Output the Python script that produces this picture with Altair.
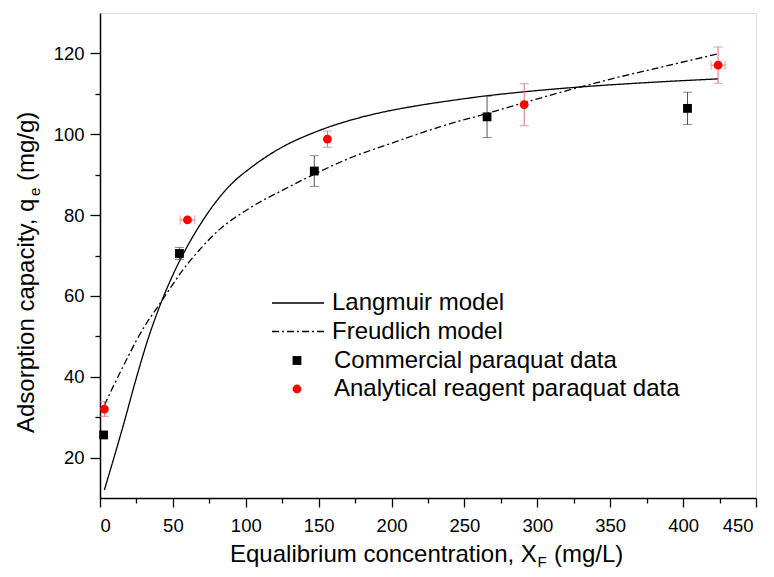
import altair as alt
import pandas as pd

FONT = "Liberation Sans"

# ---- model curves ----
lang_x = [3, 10, 16, 25, 33, 41, 50, 58, 69, 80, 91, 103, 121, 151, 174, 197, 220, 242, 265, 288, 341, 386, 424]
lang_y = [12.0, 20.5, 28.0, 39.8, 49.4, 57.5, 65.2, 71.0, 77.8, 83.5, 88.0, 91.6, 96.0, 101.0, 103.7, 105.7, 107.2, 108.4, 109.5, 110.4, 112.0, 113.0, 113.7]
freu_x = [3, 8, 13, 19, 25, 32, 39, 47, 57, 68, 80, 103, 126, 151, 174, 197, 220, 242, 265, 288, 341, 386, 424]
freu_y = [33.0, 36.8, 40.5, 44.8, 49.0, 53.3, 57.0, 61.3, 66.5, 71.3, 75.8, 81.8, 86.3, 90.8, 94.5, 97.4, 100.3, 102.8, 105.1, 107.5, 112.8, 116.7, 119.9]
model_names = ["Langmuir model", "Freudlich model"]

# ---- experimental data ----
series_names = ["Commercial paraquat data", "Analytical reagent paraquat data"]
comm_x = [2.5, 54.5, 147, 265.5, 403]
comm_y = [25.6, 70.5, 90.9, 104.3, 106.4]
comm_yerr = [0, 1.5, 3.8, 5.1, 4.0]
red_x = [3, 60, 156, 291, 424]
red_y = [32.0, 78.8, 98.8, 107.3, 117.1]
red_yerr = [1.8, 0, 2.0, 5.2, 4.5]
red_xerr = [0, 5.0, 0, 0, 4.8]

# ---- axis ticks and titles ----
x_major = [0, 50, 100, 150, 200, 250, 300, 350, 400, 450]
x_minor = [25, 75, 125, 175, 225, 275, 325, 375, 425]
y_major = [20, 40, 60, 80, 100, 120]
y_minor = [30, 50, 70, 90, 110]
x_title_parts = ["Equalibrium concentration, X", "F", "(mg/L)"]
y_title_parts = ["Adsorption capacity, q", "e", "(mg/g)"]

W, H = 656, 485

curves = pd.DataFrame({
    "x": lang_x + freu_x,
    "y": lang_y + freu_y,
    "model": [model_names[0]] * len(lang_x) + [model_names[1]] * len(freu_x),
})
points = pd.DataFrame({
    "x": comm_x + red_x,
    "y": comm_y + red_y,
    "series": [series_names[0]] * len(comm_x) + [series_names[1]] * len(red_x),
})

def verr(xs, ys, es):
    d = pd.DataFrame({"x": xs, "y": ys, "e": es})
    d = d[d.e > 0].copy()
    d["lo"] = d.y - d.e
    d["hi"] = d.y + d.e
    return d

def herr(xs, ys, es):
    d = pd.DataFrame({"x": xs, "y": ys, "e": es})
    d = d[d.e > 0].copy()
    d["lo"] = d.x - d.e
    d["hi"] = d.x + d.e
    return d

xs = alt.Scale(domain=[0, 450], nice=False, zero=False)
ys = alt.Scale(domain=[10, 130], nice=False, zero=False)

axis_common = dict(domainColor="black", domainWidth=1.5, tickColor="black", tickWidth=1.3,
                   grid=False, labelFont=FONT, labelColor="black", labelFontSize=18.5, title=None)

x_major_axis = alt.Axis(values=x_major, orient="bottom", tickSize=9, labelPadding=9,
                        labelOffset={"condition": {"test": "datum.value === 450", "value": -3}, "value": 0},
                        **axis_common)
y_major_axis = alt.Axis(values=y_major, orient="left", tickSize=10, labelPadding=6, **axis_common)
x_minor_axis = alt.Axis(values=x_minor, orient="bottom", tickSize=5, labels=False, domain=False,
                        tickColor="black", tickWidth=1.3, grid=False, title=None)
y_minor_axis = alt.Axis(values=y_minor, orient="left", tickSize=5, labels=False, domain=False,
                        tickColor="black", tickWidth=1.3, grid=False, title=None)

lines_legend = alt.Legend(orient="none", legendX=186, legendY=278, title=None, symbolType="M-3,0H3",
                          symbolSize=300, symbolStrokeWidth=1.3, symbolStrokeColor="black",
                          symbolFillColor="transparent",
                          labelFont=FONT, labelFontSize=24, labelColor="black", labelOffset=22,
                          labelLimit=600, rowPadding=4.5, padding=0)
pts_legend = alt.Legend(orient="none", legendX=185, legendY=335.5, title=None, symbolSize=78,
                        symbolStrokeWidth=0, labelFont=FONT, labelFontSize=24, labelColor="black",
                        labelOffset=25, labelLimit=600, rowPadding=4.5, padding=0)

curve_layer = alt.Chart(curves).mark_line(color="black", strokeWidth=1.3, interpolate="monotone").encode(
    x=alt.X("x:Q", scale=xs, axis=x_major_axis),
    y=alt.Y("y:Q", scale=ys, axis=y_major_axis),
    strokeDash=alt.StrokeDash("model:N", scale=alt.Scale(domain=model_names, range=[[1, 0], [7, 3, 2, 3]]),
                              legend=lines_legend, sort=model_names),
)

def vbars(d, col):
    rule = alt.Chart(d).mark_rule(color=col, strokeWidth=1).encode(
        x=alt.X("x:Q", scale=xs, axis=None), y=alt.Y("lo:Q", scale=ys, axis=None), y2="hi:Q")
    cap1 = alt.Chart(d).mark_tick(color=col, orient="horizontal", size=9, thickness=1).encode(
        x=alt.X("x:Q", scale=xs, axis=None), y=alt.Y("lo:Q", scale=ys, axis=None))
    cap2 = alt.Chart(d).mark_tick(color=col, orient="horizontal", size=9, thickness=1).encode(
        x=alt.X("x:Q", scale=xs, axis=None), y=alt.Y("hi:Q", scale=ys, axis=None))
    return [rule, cap1, cap2]

def hbars(d, col):
    rule = alt.Chart(d).mark_rule(color=col, strokeWidth=1).encode(
        x=alt.X("lo:Q", scale=xs, axis=None), x2="hi:Q", y=alt.Y("y:Q", scale=ys, axis=None))
    cap1 = alt.Chart(d).mark_tick(color=col, orient="vertical", size=9, thickness=1).encode(
        x=alt.X("lo:Q", scale=xs, axis=None), y=alt.Y("y:Q", scale=ys, axis=None))
    cap2 = alt.Chart(d).mark_tick(color=col, orient="vertical", size=9, thickness=1).encode(
        x=alt.X("hi:Q", scale=xs, axis=None), y=alt.Y("y:Q", scale=ys, axis=None))
    return [rule, cap1, cap2]

err_layers = (vbars(verr(comm_x, comm_y, comm_yerr), "#555555")
              + vbars(verr(red_x, red_y, red_yerr), "#e07070")
              + hbars(herr(red_x, red_y, red_xerr), "#e07070"))

point_layer = alt.Chart(points).mark_point(filled=True, opacity=1, size=78, strokeWidth=0).encode(
    x=alt.X("x:Q", scale=xs, axis=x_minor_axis),
    y=alt.Y("y:Q", scale=ys, axis=y_minor_axis),
    color=alt.Color("series:N", scale=alt.Scale(domain=series_names, range=["black", "#ff0000"]),
                    legend=pts_legend, sort=series_names),
    shape=alt.Shape("series:N", scale=alt.Scale(domain=series_names, range=["square", "circle"]),
                    legend=pts_legend, sort=series_names),
)

def txt(s, x, y, size, align="left", angle=0):
    return alt.Chart(pd.DataFrame({"t": [s]})).mark_text(
        font=FONT, fontSize=size, color="black", align=align, baseline="alphabetic", angle=angle
    ).encode(text="t:N", x=alt.value(x), y=alt.value(y))

# x title pieces (relative to plot origin)
xt0 = 130
xb = 549
x_titles = [
    txt(x_title_parts[0], xt0, xb, 24),
    txt(x_title_parts[1], xt0 + 307.5, xb + 5, 15),
    txt(x_title_parts[2], xt0 + 324, xb, 24),
]
# y title pieces (rotated)
yt0 = 420
yb = -66.5
y_titles = [
    txt(y_title_parts[0], yb, yt0, 24, angle=270),
    txt(y_title_parts[1], yb + 6.5, yt0 - 237, 15, angle=270),
    txt(y_title_parts[2], yb, yt0 - 252, 24, angle=270),
]

chart = alt.layer(curve_layer, *err_layers, point_layer, *x_titles, *y_titles).resolve_axis(
    x="independent", y="independent"
).properties(
    width=W, height=H,
    autosize=alt.AutoSizeParams(type="none"),
    padding={"left": 92, "top": 5, "right": 10, "bottom": 71},
).configure_view(stroke="black", strokeWidth=1.5).configure(background="white")

chart.save("out.html", embed_options={"renderer": "svg", "actions": False})
